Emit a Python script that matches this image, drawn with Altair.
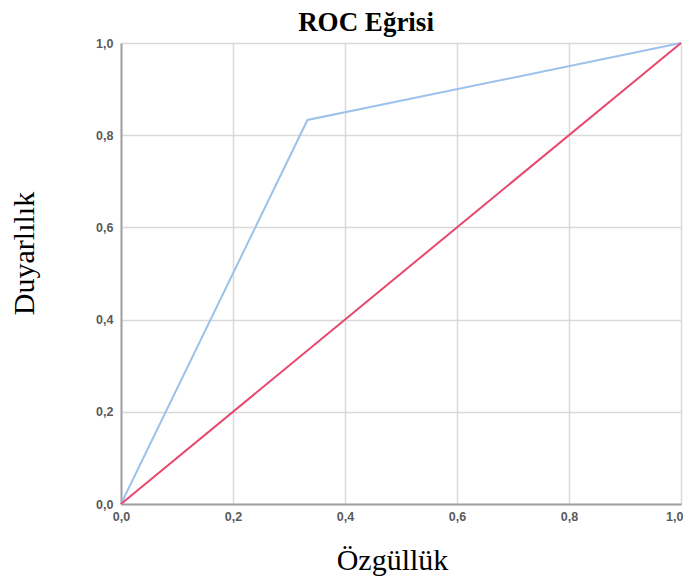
import altair as alt
import pandas as pd

fpr = [0.0, 0.333, 1.0]
tpr = [0.0, 0.833, 1.0]
ref_x = [0.0, 1.0]
ref_y = [0.0, 1.0]
ticks = [0.0, 0.2, 0.4, 0.6, 0.8, 1.0]

roc = pd.DataFrame({"x": fpr, "y": tpr, "order": list(range(len(fpr)))})
ref = pd.DataFrame({"x": ref_x, "y": ref_y, "order": list(range(len(ref_x)))})

label_expr = "replace(format(datum.value, '.1f'), '.', ',')"

xenc = alt.X("x:Q", scale=alt.Scale(domain=[0, 1], nice=False),
             axis=alt.Axis(values=ticks, labelExpr=label_expr, title="Özgüllük",
                           titleX=271, titleY=65, titleBaseline="alphabetic",
                           titleAlign="center", labelPadding=6, labelFlush=False,
                           labelAlign={"condition": {"test": "datum.value >= 1", "value": "right"},
                                       "value": "center"},
                           labelOffset={"condition": {"test": "datum.value >= 1", "value": 2},
                                        "value": 0},
                           titleFontSize=30))
yenc = alt.Y("y:Q", scale=alt.Scale(domain=[0, 1], nice=False),
             axis=alt.Axis(values=ticks, labelExpr=label_expr, title="Duyarlılık",
                           titleX=-88, titleY=210, titleAngle=270,
                           titleBaseline="alphabetic", titleAlign="center",
                           labelPadding=8, labelFlush=False, titleFontSize=30))

roc_line = alt.Chart(roc).mark_line(color="#9cc2ec", strokeWidth=2).encode(
    x=xenc, y=yenc, order="order:Q")
ref_line = alt.Chart(ref).mark_line(color="#e8476e", strokeWidth=2).encode(
    x="x:Q", y="y:Q", order="order:Q")

chart = alt.layer(roc_line, ref_line).properties(
    width=560, height=461,
    autosize=alt.AutoSizeParams(type="none"),
    padding={"left": 113, "top": 35, "right": 2, "bottom": 73},
    title=alt.TitleParams("ROC Eğrisi", font="Liberation Serif", fontSize=27,
                          fontWeight="bold", color="#000000", anchor="middle",
                          frame="group", dx=-35, offset=0),
).configure_view(stroke=None).configure_axis(
    domainColor="#a0a0a0", domainWidth=2, gridColor="#d9d9d9", gridWidth=1.5,
    ticks=False, labelFont="Liberation Sans", labelFontSize=12.5,
    labelFontWeight="bold", labelColor="#5a5a5a",
    titleFont="Liberation Serif", titleFontWeight="normal",
    titleColor="#000000",
)

chart.save("out.html", embed_options={"renderer": "svg", "actions": False})
